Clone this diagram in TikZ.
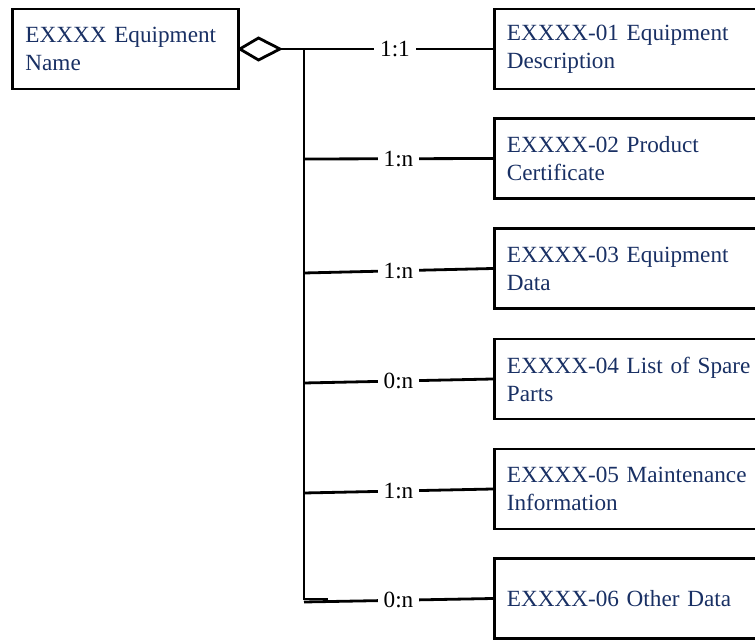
\documentclass[tikz,border=0pt]{standalone}
\usepackage{fontspec}
\setmainfont{Liberation Serif}
\usepackage{tikz}
\usetikzlibrary{positioning}
\definecolor{docBlue}{RGB}{25,48,100}
\tikzstyle{sheet} = [x = 0.5pt, y = -0.5pt]
\tikzstyle{boxStyle} = [draw=black, line width=1.4pt, text=docBlue, align=left, anchor=west,
  minimum height=40pt, inner xsep=6pt, font=\fontsize{11.6}{14}\selectfont]
\tikzstyle{docBoxStyle} = [boxStyle, text width=126pt, minimum width=138.5pt]
\tikzstyle{linkLine} = [line width=1.4pt, color=black]
\tikzstyle{ratioText} = [fill=white, inner xsep=3pt, inner ysep=1pt, font=\fontsize{11.6}{14}\selectfont]
\newcommand{\docBox}[3]{\node [docBoxStyle] (#1) at (493, #2) {#3};}
\newcommand{\docLink}[3]{\draw [linkLine] (#1) -- node [ratioText] {#3} (#2.west);}

\begin{document}
\begin{tikzpicture}[sheet]
  \useasboundingbox (0,0) rectangle (755,640);
  % main item
  \node [boxStyle, minimum width=113pt, inner xsep=5.3pt, text width=100pt] (main) at (11,49) {EXXXX Equipment\\Name};
  \coordinate (tip) at (280,49);
  \draw [linkLine, fill=white] (main.east) -- (258.5,38) -- (tip) -- (258.5,60) -- cycle;

  % documents
  \docBox{doc1}{49}{EXXXX-01 Equipment\\Description}
  \docBox{doc2}{158.5}{EXXXX-02 Product\\Certificate}
  \docBox{doc3}{268.5}{EXXXX-03 Equipment\\Data}
  \docBox{doc4}{379}{EXXXX-04 List of Spare\\Parts}
  \docBox{doc5}{489}{EXXXX-05 Maintenance\\Information}
  \docBox{doc6}{598.5}{EXXXX-06 Other Data}

  % trunk
  \coordinate (top) at (304,49);
  \coordinate (j2) at (304,159);
  \coordinate (j3) at (304,273);
  \coordinate (j4) at (304,383);
  \coordinate (j5) at (304,493);
  \coordinate (j6) at (304,602);
  \coordinate (bottom) at (304,599);
  \coordinate (stub) at (328,599);
  \draw [linkLine] (top) -- (bottom) -- (stub);

  \draw [linkLine] (tip) -- node [ratioText, pos=0.54] {1:1} (doc1.west);
  \docLink{j2}{doc2}{1:n}
  \docLink{j3}{doc3}{1:n}
  \docLink{j4}{doc4}{0:n}
  \docLink{j5}{doc5}{1:n}
  \docLink{j6}{doc6}{0:n}
\end{tikzpicture}
\end{document}
